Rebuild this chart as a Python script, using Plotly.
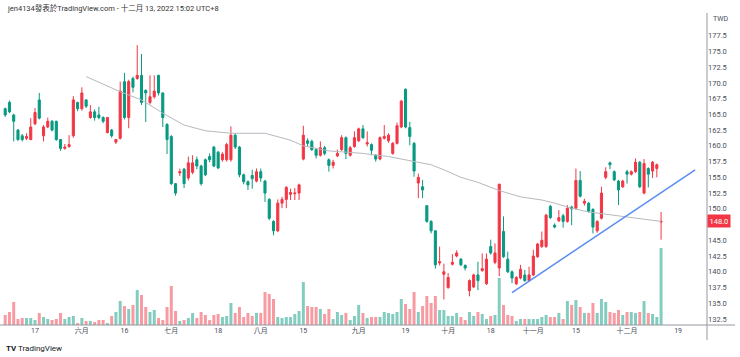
import pandas as pd
import plotly.graph_objects as go

# ---------------- data ----------------
holidays = ["2022-06-03", "2022-09-09", "2022-10-10"]
first_day = "2022-05-06"
last_calendar_day = "2022-12-30"

opens = [165.9, 166.9, 164.9, 162.5, 161.6, 161.2, 161.0, 163.5, 167.3, 161.6,
         163.0, 163.9, 163.9, 161.0, 159.6, 159.9, 161.6, 166.9, 165.9, 167.3,
         164.5, 165.4, 164.9, 164.5, 162.1, 162.5, 160.6, 161.2, 170.2, 164.5,
         170.7, 170.7, 171.2, 168.8, 166.9, 167.8, 171.2, 168.4, 163.4, 161.5,
         154.0, 155.7, 156.3, 154.9, 155.8, 157.8, 156.8, 157.8, 158.3, 159.8,
         159.0, 157.8, 157.8, 157.8, 161.7, 159.8, 155.4, 154.3, 155.3, 154.4,
         155.9, 154.4, 151.5, 148.0, 146.5, 150.9, 151.5, 152.3, 152.4, 152.5,
         157.9, 160.8, 160.7, 159.4, 158.5, 159.7, 157.8, 156.9, 158.4, 159.4,
         161.3, 158.5, 159.9, 160.8, 162.7, 160.3, 160.2, 158.5, 157.9, 161.2,
         160.8, 158.8, 160.4, 163.0, 169.0, 162.9, 160.4, 154.1, 153.5, 150.5,
         148.0, 146.5, 141.4, 139.6, 137.5, 141.2, 142.5, 142.0, 141.0, 137.0,
         137.6, 139.5, 140.2, 138.1, 144.0, 141.5, 140.6, 146.4, 142.0, 140.0,
         138.1, 139.0, 139.5, 138.6, 139.5, 142.4, 144.0, 144.0, 150.4, 147.4,
         148.1, 148.9, 148.0, 150.3, 150.1, 154.5, 150.9, 150.9, 149.9, 146.5,
         148.5, 155.0, 157.3, 155.9, 154.4, 153.5, 155.9, 155.5, 155.9, 157.4,
         152.5, 156.4, 156.0, 156.4, 147.9]
highs = [166.1, 167.2, 165.1, 162.7, 161.9, 162.0, 164.4, 166.0, 168.4, 163.3,
         164.5, 164.1, 164.0, 161.1, 160.3, 161.7, 167.9, 167.0, 169.3, 167.4,
         166.5, 165.8, 166.2, 164.7, 164.6, 162.7, 161.1, 170.2, 171.6, 170.5,
         171.0, 176.0, 174.6, 169.0, 171.2, 171.2, 171.3, 168.5, 163.6, 161.7,
         154.1, 156.4, 156.5, 158.3, 158.5, 158.3, 157.0, 158.0, 158.8, 160.0,
         159.2, 159.0, 160.5, 163.1, 162.0, 160.0, 155.6, 154.5, 156.2, 156.4,
         156.4, 154.6, 151.7, 148.2, 151.5, 151.9, 153.6, 153.2, 153.3, 154.0,
         163.2, 161.2, 161.0, 159.6, 160.7, 160.0, 158.0, 157.8, 159.4, 161.7,
         161.5, 160.0, 162.3, 162.9, 163.3, 162.3, 160.4, 158.7, 161.5, 163.3,
         162.0, 160.6, 163.7, 167.3, 169.1, 163.8, 160.6, 155.6, 154.6, 150.6,
         148.2, 146.6, 144.0, 141.3, 139.8, 142.8, 143.4, 142.2, 141.2, 138.8,
         139.7, 141.6, 142.9, 142.9, 145.1, 144.5, 154.0, 148.8, 143.2, 140.2,
         139.3, 141.1, 140.3, 140.8, 143.5, 144.6, 146.4, 149.2, 150.6, 147.7,
         149.8, 149.2, 150.6, 150.5, 156.4, 156.0, 151.6, 151.1, 150.1, 148.2,
         153.5, 156.6, 157.5, 156.1, 154.6, 154.6, 156.2, 156.1, 158.0, 157.6,
         157.9, 156.6, 157.6, 157.2, 149.5]
lows = [164.6, 165.2, 160.7, 160.8, 160.7, 160.9, 160.9, 163.3, 164.2, 160.7,
        162.8, 162.3, 160.8, 159.2, 159.4, 159.7, 161.3, 165.5, 165.6, 166.0,
        164.3, 164.0, 164.2, 163.6, 162.0, 161.3, 160.3, 161.0, 164.2, 162.8,
        168.5, 170.5, 166.5, 163.8, 166.6, 167.5, 168.0, 163.0, 158.7, 153.8,
        152.1, 155.2, 153.3, 154.5, 155.5, 156.3, 153.7, 155.2, 157.4, 156.6,
        156.3, 157.5, 157.5, 157.5, 159.5, 155.0, 153.9, 153.0, 153.2, 154.2,
        154.3, 151.1, 148.2, 145.8, 146.3, 150.1, 150.1, 151.4, 151.4, 151.4,
        157.7, 159.9, 159.2, 158.0, 158.3, 158.5, 155.9, 156.4, 158.2, 159.2,
        157.9, 158.3, 159.7, 160.6, 161.1, 159.9, 158.5, 157.5, 157.7, 161.0,
        160.5, 158.6, 160.2, 162.8, 162.8, 160.1, 155.1, 151.7, 151.7, 147.8,
        146.1, 140.5, 141.0, 135.6, 137.3, 141.0, 142.3, 140.9, 140.2, 136.1,
        137.4, 137.1, 140.0, 137.9, 142.7, 141.2, 139.3, 142.2, 139.8, 138.2,
        137.9, 138.8, 138.4, 138.4, 139.3, 142.2, 143.8, 143.8, 148.4, 146.9,
        147.9, 147.0, 147.8, 147.4, 149.9, 151.8, 150.5, 149.4, 146.1, 146.2,
        148.3, 154.7, 156.3, 154.4, 150.6, 153.3, 154.0, 155.3, 155.7, 153.3,
        152.3, 153.4, 154.9, 155.0, 145.1]
closes = [164.9, 165.4, 163.9, 161.0, 161.0, 161.5, 163.0, 165.3, 164.4, 163.0,
          163.9, 162.5, 161.0, 159.6, 159.8, 160.2, 167.3, 165.9, 168.4, 166.3,
          165.4, 164.5, 164.5, 163.9, 164.5, 161.6, 161.0, 168.7, 164.5, 170.2,
          169.3, 171.2, 166.9, 168.4, 167.8, 168.7, 168.4, 164.5, 161.0, 154.0,
          152.5, 155.9, 154.0, 157.3, 157.3, 156.8, 154.0, 155.4, 157.8, 156.8,
          156.5, 158.7, 160.2, 161.7, 159.8, 155.4, 154.3, 153.8, 154.8, 155.9,
          154.9, 152.5, 148.5, 146.5, 150.9, 151.5, 153.4, 152.6, 152.5, 153.8,
          161.7, 160.4, 159.4, 158.5, 159.7, 158.8, 156.9, 157.4, 158.8, 161.3,
          158.8, 159.7, 161.3, 162.7, 161.3, 160.5, 159.3, 157.9, 161.3, 161.5,
          161.7, 160.4, 163.2, 167.1, 163.0, 161.5, 156.0, 155.0, 153.0, 148.0,
          146.5, 141.1, 141.6, 140.0, 139.1, 141.5, 143.0, 141.1, 140.6, 138.6,
          139.5, 138.6, 140.5, 142.0, 143.0, 143.0, 153.9, 142.4, 140.0, 139.0,
          139.1, 140.4, 138.6, 139.5, 142.5, 144.4, 145.0, 149.0, 148.6, 147.1,
          148.6, 148.0, 150.1, 150.0, 154.5, 152.0, 151.2, 149.6, 147.1, 148.0,
          152.5, 155.9, 157.0, 154.6, 153.0, 154.4, 155.5, 155.9, 157.4, 153.5,
          157.2, 155.5, 157.4, 157.0, 148.0]
# volume in lots
volumes = [1000, 1300, 2300, 600, 700, 700, 700, 500, 1200, 800,
           600, 500, 600, 1200, 600, 800, 900, 200, 700, 400,
           400, 300, 500, 500, 200, 900, 1300, 2400, 1900, 1600,
           2000, 3500, 3000, 1800, 1300, 1500, 700, 500, 1800, 3900,
           1400, 400, 500, 700, 1200, 700, 1300, 1000, 500, 1000,
           1100, 800, 900, 2200, 1200, 1800, 800, 1200, 900, 1200,
           1200, 3300, 3100, 2600, 800, 700, 800, 800, 1100, 1400,
           4300, 1900, 1800, 1800, 1600, 1100, 1600, 600, 1300, 1000,
           1200, 500, 900, 2000, 1200, 700, 800, 800, 800, 1300,
           1200, 1100, 1300, 2600, 2100, 1600, 3300, 1300, 1900, 2900,
           2200, 2900, 1500, 1500, 900, 900, 1200, 800, 500, 1300,
           900, 1300, 1100, 600, 900, 1000, 4700, 2000, 1000, 900,
           400, 600, 600, 600, 600, 600, 800, 1000, 800, 800,
           1200, 600, 2400, 2000, 2500, 1800, 1200, 1200, 2200, 1200,
           2600, 2300, 1300, 1200, 1500, 1000, 1300, 1300, 1200, 1300,
           2400, 1200, 1100, 800, 7700]

ma_dates = ["2022-06-02", "2022-06-15", "2022-06-22", "2022-06-29", "2022-07-06",
            "2022-07-13", "2022-07-21", "2022-07-27", "2022-08-02", "2022-08-10",
            "2022-08-15", "2022-08-23", "2022-09-02", "2022-09-13", "2022-09-19",
            "2022-09-27", "2022-09-30", "2022-10-06", "2022-10-13", "2022-10-20",
            "2022-10-27", "2022-11-03", "2022-11-08", "2022-11-14", "2022-11-18",
            "2022-11-30", "2022-12-08", "2022-12-13"]
ma_values = [171.0, 168.6, 167.3, 165.2, 163.3, 162.4, 162.0, 162.0, 162.0, 160.9,
             160.0, 159.2, 158.8, 158.3, 157.8, 157.0, 156.2, 155.0, 154.2, 152.9,
             151.9, 151.4, 150.9, 150.1, 149.5, 148.8, 148.3, 148.0]

trend_dates = ["2022-10-25", "2022-12-23"]
trend_prices = [136.7, 156.2]

tick_dates = ["2022-05-17", "2022-06-01", "2022-06-16", "2022-07-01", "2022-07-18",
              "2022-08-01", "2022-08-15", "2022-09-01", "2022-09-19", "2022-10-03",
              "2022-10-18", "2022-11-01", "2022-11-15", "2022-12-01", "2022-12-19"]
tick_labels = ["17", "六月", "16", "七月", "18", "八月", "15", "九月", "19", "十月",
               "18", "十一月", "15", "十二月", "19"]
# 147.5 is hidden behind the last-price label in the reference
price_ticks = [132.5, 135.0, 137.5, 140.0, 142.5, 145.0, 150.0, 152.5, 155.0,
               157.5, 160.0, 162.5, 165.0, 167.5, 170.0, 172.5, 175.0, 177.5]
last_price = 148.0

# ---------------- styling ----------------
UP = "#F23645"
DOWN = "#089981"
VOL_UP = "rgba(8,153,129,0.5)"
VOL_DOWN = "rgba(242,54,69,0.5)"
TEXT = "#4a4e59"
FONT = "Roboto, 'Noto Sans CJK TC', sans-serif"

calendar = pd.bdate_range(first_day, last_calendar_day, freq="C", holidays=holidays)
pos = {d.strftime("%Y-%m-%d"): k for k, d in enumerate(calendar)}
x = list(range(len(opens)))

vol_colors = [VOL_UP if c >= o else VOL_DOWN for o, c in zip(opens, closes)]

fig = go.Figure()
fig.add_trace(go.Bar(x=x, y=volumes, marker_color=vol_colors, marker_line_width=0,
                     width=0.7, yaxis="y2", hoverinfo="skip"))
fig.add_trace(go.Scatter(x=[pos[d] for d in ma_dates], y=ma_values, mode="lines",
                         line=dict(color="#b7b9c0", width=1), hoverinfo="skip"))
fig.add_trace(go.Candlestick(
    x=x, open=opens, high=highs, low=lows, close=closes,
    increasing=dict(line=dict(color=UP, width=1), fillcolor=UP),
    decreasing=dict(line=dict(color=DOWN, width=1), fillcolor=DOWN),
    whiskerwidth=0, hoverinfo="skip"))
fig.add_trace(go.Scatter(x=[pos[d] for d in trend_dates], y=trend_prices, mode="lines",
                         line=dict(color="#5b8cf0", width=1.5), hoverinfo="skip"))

W, H = 740, 357
ml, mr, mt, mb = 0, 33, 12, 32
plot_w = W - ml - mr
plot_h = H - mt - mb

fig.update_layout(
    width=W, height=H,
    margin=dict(l=ml, r=mr, t=mt, b=mb, pad=0),
    plot_bgcolor="white", paper_bgcolor="white",
    showlegend=False,
    font=dict(family=FONT, size=7.5, color=TEXT),
    xaxis=dict(range=[-1.22, 164.78], showgrid=False, zeroline=False, showline=False,
               tickvals=[pos[d] for d in tick_dates], ticktext=tick_labels,
               ticks="", tickfont=dict(size=7, color=TEXT),
               rangeslider=dict(visible=False), fixedrange=True),
    yaxis=dict(side="right", range=[131.55, 181.26], showgrid=False, zeroline=False,
               showline=False, tickvals=price_ticks, tickformat=".1f", ticks="",
               tickfont=dict(size=7.5, color=TEXT), fixedrange=True),
    yaxis2=dict(overlaying="y", range=[0, 31300], visible=False, fixedrange=True),
    hovermode=False,
)

# pane separators
fig.add_shape(type="line", xref="paper", yref="paper", x0=0, x1=735 / plot_w, y0=0, y1=0,
              line=dict(color="#9598a1", width=1))
fig.add_shape(type="line", xref="paper", yref="paper", x0=1, x1=1,
              y0=(325 - 13) / plot_h, y1=(325 - 340) / plot_h,
              line=dict(color="#9598a1", width=1))

fig.add_annotation(xref="paper", yref="paper", x=5 / plot_w, y=(325 - 8) / plot_h,
                   xanchor="left", yanchor="middle", showarrow=False,
                   text="jen4134發表於TradingView.com - 十二月 13, 2022 15:02 UTC+8",
                   font=dict(size=7.5, color="#333333"))
fig.add_annotation(xref="paper", yref="paper", x=711 / plot_w, y=(325 - 19) / plot_h,
                   xanchor="left", yanchor="middle", showarrow=False, text="TWD",
                   font=dict(size=7, color=TEXT))
fig.add_annotation(xref="paper", yref="y", x=1.0, y=last_price, xanchor="left",
                   yanchor="middle", showarrow=False, text=f"{last_price:.1f}",
                   bgcolor=UP, borderpad=1.5, font=dict(size=7.5, color="white"))
fig.add_annotation(xref="paper", yref="paper", x=4 / plot_w, y=(325 - 348) / plot_h,
                   xanchor="left", yanchor="middle", showarrow=False,
                   text="<b>TV</b> TradingView", font=dict(size=8, color="#131722"))

fig.write_html("out.html", config={"displayModeBar": False, "staticPlot": True},
               post_script="document.body.style.margin='0';document.body.style.overflow='hidden';")
